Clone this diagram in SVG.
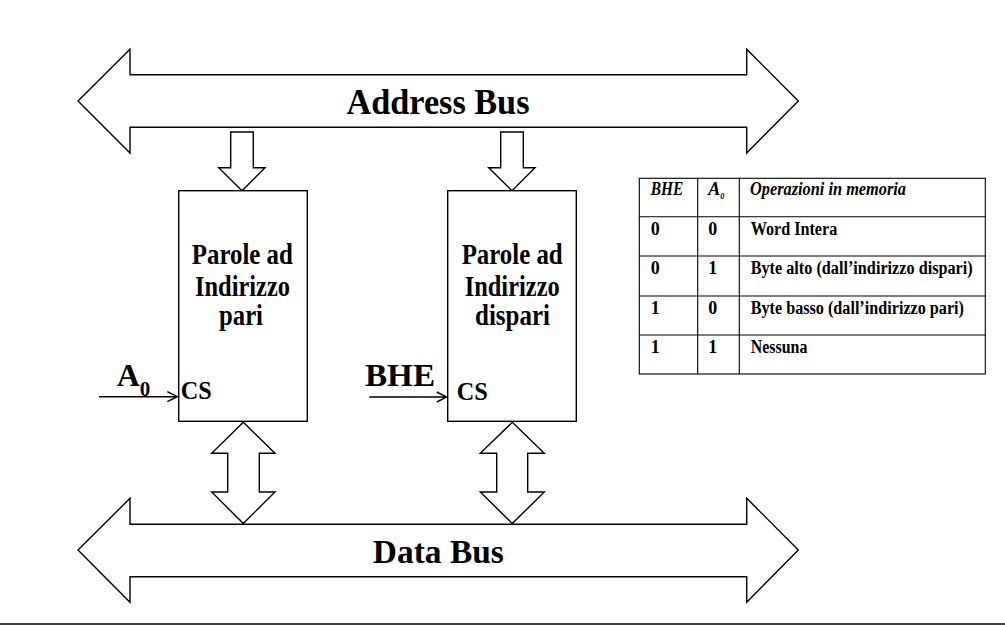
<svg xmlns="http://www.w3.org/2000/svg" width="1005" height="625" viewBox="0 0 1005 625">
<style>
.shape{fill:#fff;stroke:#000;stroke-width:1.4;stroke-linejoin:miter}
.t{font-family:"Liberation Serif","Times New Roman",serif;font-weight:bold;fill:#000}
.ti{font-family:"Liberation Serif","Times New Roman",serif;font-weight:bold;font-style:italic;fill:#000}
.grid{stroke:#000;stroke-width:1.1;fill:none}
.wire{stroke:#000;stroke-width:1.4;fill:none}
</style>
<rect width="1005" height="625" fill="#fff"/>
<g id="connectors">
  <polygon class="shape" points="230.7,132 253.3,132 253.3,167.7 265,167.7 242,190.7 218.7,167.7 230.7,167.7"/>
  <polygon class="shape" points="500.7,132 523.3,132 523.3,167.7 535,167.7 512,190.7 488.7,167.7 500.7,167.7"/>
  <polygon class="shape" points="243.3,422.3 275,453.3 259.3,453.3 259.3,492 275,492 243.3,523.5 211.7,492 227.7,492 227.7,453.3 211.7,453.3"/>
  <polygon class="shape" points="512.3,422.3 544.3,453.3 527.7,453.3 527.7,492 544.3,492 512.3,523.5 480.3,492 496.7,492 496.7,453.3 480.3,453.3"/>
  <path class="wire" d="M99,396.7 H177.3 M167.3,391.7 L177.3,396.7 L167.3,401.7"/>
  <path class="wire" d="M369.3,397 H446.7 M436.7,392 L446.7,397 L436.7,402"/>
</g>
<g id="address-bus">
  <polygon class="shape" points="78,101 130,49.3 130,74.7 746.7,74.7 746.7,49.3 798.3,101 746.7,153 746.7,127.3 130,127.3 130,153"/>
  <text class="t" x="438" y="114" font-size="36" text-anchor="middle" textLength="183" lengthAdjust="spacingAndGlyphs">Address Bus</text>
</g>
<g id="data-bus">
  <polygon class="shape" points="78,550 130,498.3 130,524.3 746.7,524.3 746.7,498.3 798.3,550 746.7,602.3 746.7,576.7 130,576.7 130,602.3"/>
  <text class="t" x="438.3" y="563.3" font-size="34" text-anchor="middle" textLength="131" lengthAdjust="spacingAndGlyphs">Data Bus</text>
</g>
<g id="mem-pari">
  <rect class="shape" x="178.7" y="190.7" width="128.6" height="230.6"/>
  <text class="t" x="242.3" y="264" font-size="29.5" text-anchor="middle" textLength="101" lengthAdjust="spacingAndGlyphs">Parole ad</text>
  <text class="t" x="242.5" y="295.5" font-size="29.5" text-anchor="middle" textLength="95" lengthAdjust="spacingAndGlyphs">Indirizzo</text>
  <text class="t" x="241" y="325" font-size="29.5" text-anchor="middle" textLength="44" lengthAdjust="spacingAndGlyphs">pari</text>
  <text class="t" x="180.7" y="399.3" font-size="26" textLength="31" lengthAdjust="spacingAndGlyphs">CS</text>
</g>
<g id="mem-dispari">
  <rect class="shape" x="447.7" y="190.7" width="128.6" height="230.6"/>
  <text class="t" x="512.2" y="264" font-size="29.5" text-anchor="middle" textLength="101" lengthAdjust="spacingAndGlyphs">Parole ad</text>
  <text class="t" x="512.2" y="295.5" font-size="29.5" text-anchor="middle" textLength="95" lengthAdjust="spacingAndGlyphs">Indirizzo</text>
  <text class="t" x="512.5" y="325" font-size="29.5" text-anchor="middle" textLength="75" lengthAdjust="spacingAndGlyphs">dispari</text>
  <text class="t" x="456.7" y="400" font-size="26" textLength="31" lengthAdjust="spacingAndGlyphs">CS</text>
</g>
<g id="label-a0">
  <text class="t" x="116.7" y="386" font-size="32">A<tspan font-size="21" dy="10">0</tspan></text>
</g>
<g id="label-bhe">
  <text class="t" x="365" y="385.7" font-size="32" textLength="70" lengthAdjust="spacingAndGlyphs">BHE</text>
</g>
<g id="truth-table">
  <rect class="grid" x="639.3" y="178.3" width="346" height="195.7"/>
  <path class="grid" d="M639.3,216.7 H985.3 M639.3,256 H985.3 M639.3,296 H985.3 M639.3,335 H985.3 M697.7,178.3 V374 M739.3,178.3 V374"/>
  <text class="ti" x="650.7" y="195" font-size="18" textLength="32.6" lengthAdjust="spacingAndGlyphs">BHE</text>
  <text class="ti" x="708.3" y="195" font-size="18">A<tspan font-size="8" dy="4">0</tspan></text>
  <text class="ti" x="750" y="195" font-size="18" textLength="156" lengthAdjust="spacingAndGlyphs">Operazioni in memoria</text>
  <text class="t" x="650.7" y="234.5" font-size="18">0</text>
  <text class="t" x="708.3" y="234.5" font-size="18">0</text>
  <text class="t" x="750.7" y="234.5" font-size="18" textLength="86.6" lengthAdjust="spacingAndGlyphs">Word Intera</text>
  <text class="t" x="650.7" y="274" font-size="18">0</text>
  <text class="t" x="708.3" y="274" font-size="18">1</text>
  <text class="t" x="750.7" y="274" font-size="18" textLength="222" lengthAdjust="spacingAndGlyphs">Byte alto (dall’indirizzo dispari)</text>
  <text class="t" x="650.7" y="313.5" font-size="18">1</text>
  <text class="t" x="708.3" y="313.5" font-size="18">0</text>
  <text class="t" x="750.7" y="313.5" font-size="18" textLength="213.3" lengthAdjust="spacingAndGlyphs">Byte basso (dall’indirizzo pari)</text>
  <text class="t" x="650.7" y="352.5" font-size="18">1</text>
  <text class="t" x="708.3" y="352.5" font-size="18">1</text>
  <text class="t" x="750.7" y="352.5" font-size="18" textLength="56.7" lengthAdjust="spacingAndGlyphs">Nessuna</text>
</g>
<line x1="0" y1="624" x2="1005" y2="624" stroke="#000" stroke-width="1.6"/>
</svg>
